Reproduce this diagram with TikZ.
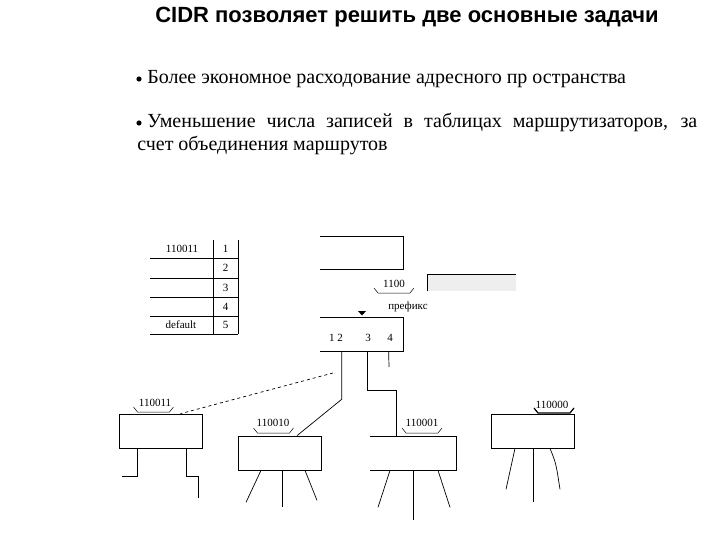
\documentclass[tikz,border=0pt]{standalone}
\usepackage{fontspec}
\setmainfont{Liberation Serif}
\newfontfamily\titlefont{Liberation Sans}
\usepackage{tikz}
\usetikzlibrary{positioning,calc}
\definecolor{gwfill}{HTML}{EEEEEE}

\begin{document}
\begin{tikzpicture}[
  x=1pt, y=-1pt,
  line width=0.7pt,
  headline/.style={font=\titlefont\fontsize{22}{26}\selectfont\bfseries, anchor=base},
  bultext/.style={font=\fontsize{20}{24}\selectfont, anchor=base west, inner sep=0pt},
  small/.style={font=\fontsize{11}{13}\selectfont, inner sep=0pt},
  hostbox/.style={draw, minimum width=83pt, minimum height=34pt, inner sep=0pt},
  openbox/.style={minimum width=83pt, minimum height=33pt, inner sep=0pt},
  prefbrace/.pic={\draw (-20,-5) -- (-16,0) -- (16,0) -- (20,-5);}
]
\useasboundingbox (0,0) rectangle (720,540);

% ---- Title and bullets ----
\node[headline] (title) at (407,23) {CIDR позволяет решить две основные задачи};

\fill (139,79) circle (2.6pt);
\node[bultext] (bul1) at (147,84) {Более экономное расходование адресного пр остранства};
\fill (139,123) circle (2.6pt);
\node[bultext] (bul2) at (147,128)
  {\makebox[550pt][s]{Уменьшение числа записей в таблицах маршрутизаторов, за}};
\node[bultext] (bul3) at (137,151) {счет объединения маршрутов};

% ---- Routing table ----
\draw (213,240) -- (213,334);
\draw (238,240) -- (238,334);
\foreach \y in {258,278,297,316,334}
  \draw (150,\y) -- (238,\y);
\foreach \i/\y in {1/249,2/268,3/287.5,4/306.5,5/325}
  \node[small] (num\i) at (225.5,\y) {\i};
\node[small] (ent1) at (182,249) {110011};
\node[small] (ent5) at (181,325) {default};

% ---- Upper network and gateway ----
\node[openbox, minimum height=32pt] (lan) at (361.5,253) {};
\draw (lan.north west) -- (lan.north east) -- (lan.south east) -- (lan.south west);

\node[minimum width=88pt, minimum height=16pt, inner sep=0pt, fill=gwfill] (gw) at (472,283) {};
\draw (gw.south west) -- (gw.north west) -- (gw.north east);

\node[small] (pfx) at (394,284) {1100};
\pic[line width=0.5pt] at (394,293) {prefbrace};
\node[small] (pfxlabel) at (408,307) {префикс};
\fill (358,311) -- (366,311) -- (362,315.5) -- cycle;

% ---- Router ----
\node[openbox] (router) at (361.5,334.5) {};
\draw (router.north west) -- (router.north east) -- (router.south east) -- (router.south west);
\node[small] (port12) at (336,338) {1 2};
\node[small] (port3) at (368,338) {3};
\node[small] (port4) at (390,338) {4};

% ---- Hosts ----
\node[hostbox] (b1) at (160.5,431) {};
\node[hostbox] (b2) at (280,453) {};
\node[openbox, minimum width=86pt] (b3) at (413,453.5) {};
\draw (b3.north west) -- (b3.north east) -- (b3.south east) -- (b3.south west);
\node[hostbox] (b4) at (532.5,431) {};

\node[small] (h1) at (155,403) {110011};
\pic[line width=0.5pt] at (153.5,412) {prefbrace};
\node[small] (h2) at (273,423) {110010};
\pic[line width=0.5pt] at (273.5,433) {prefbrace};
\node[small] (h3) at (422,423) {110001};
\pic[line width=0.5pt] at (422,433) {prefbrace};
\node[small] (h4) at (552,405) {110000};
\pic[line width=1.2pt] at (554,413) {prefbrace};

% Router -> hosts
\coordinate (dashend) at (333,373);
\coordinate (stub) at (389,367);
\draw ([xshift=22pt]router.south west) -- ++(0,48) -- ([xshift=17pt]b2.north);
\draw ([xshift=48pt]router.south west) -- ++(0,39) -| ([xshift=-17pt]b3.north);
\draw ([xshift=69pt]router.south west) -- (stub);
\draw[dashed] (dashend) -- ([xshift=20pt]b1.north);

% Host legs
\draw ([xshift=-23.5pt]b1.south) -- ++(0,28) -- ++(-15,0);
\draw ([xshift=25.5pt]b1.south) -- ++(0,28) -- ++(12,0) -- ++(0,22);
\draw ([xshift=-19pt]b2.south) -- ++(-15,32);
\draw (b2.south) ++(2,0) -- ++(0,37);
\draw ([xshift=25pt]b2.south) -- ++(12,30);
\draw ([xshift=-23pt]b3.south) -- ++(-12,37);
\draw (b3.south) -- ++(0,50);
\draw ([xshift=25pt]b3.south) -- ++(12,37);
\draw ([xshift=-17.5pt]b4.south) -- ++(-9,41);
\draw (b4.south) ++(0.5,0) -- ++(0,54);
\draw ([xshift=17.5pt]b4.south) .. controls ++(6,15) .. ++(10,41);

\end{tikzpicture}
\end{document}
